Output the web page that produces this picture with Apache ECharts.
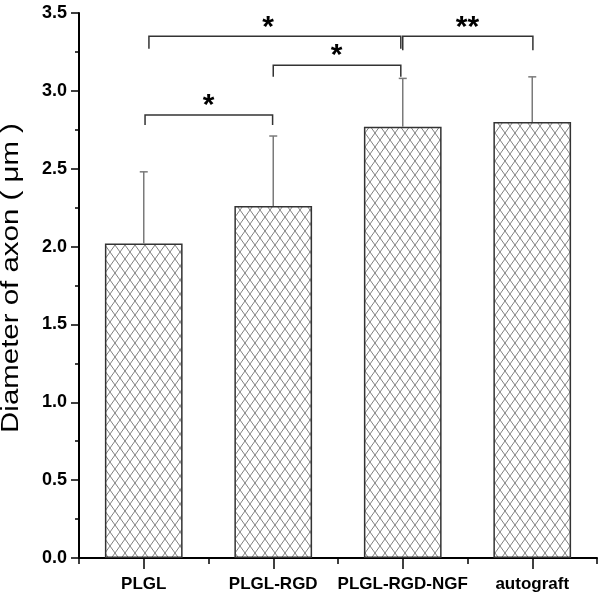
<!DOCTYPE html>
<html>
<head>
<meta charset="utf-8">
<script src="https://cdn.jsdelivr.net/npm/echarts@6/dist/echarts.min.js"></script>
<style>
html,body{margin:0;padding:0;background:#fff;}
#chart{width:600px;height:602px;}
</style>
</head>
<body>
<div id="chart"></div>
<script>
// ---- data ----
var categories = ['PLGL', 'PLGL-RGD', 'PLGL-RGD-NGF', 'autograft'];
var meanValues = [2.02, 2.26, 2.77, 2.80];
var errorValues = [0.46, 0.45, 0.31, 0.29];
var yTicks = [0, 0.5, 1.0, 1.5, 2.0, 2.5, 3.0, 3.5];
// significance brackets (category index + fractional offset)
var bracketFrom = [0.04, 2.00, 1.00, 0.01];
var bracketTo = [1.985, 3.005, 1.985, 0.995];
var bracketLevel = [3.35, 3.35, 3.165, 2.845];
var bracketTail = [3.27, 3.26, 3.09, 2.78];
var bracketLabel = ['*', '**', '*', '*'];
var bracketLabelPos = [0.96, 2.50, 1.49, 0.50];

function makePattern() {
  var w = 10, h = 14;
  var c = document.createElement('canvas');
  c.width = w; c.height = h;
  var ctx = c.getContext('2d');
  ctx.fillStyle = '#fff';
  ctx.fillRect(0, 0, w, h);
  ctx.strokeStyle = '#808080';
  ctx.lineWidth = 1;
  ctx.beginPath();
  ctx.moveTo(-w, -h); ctx.lineTo(2 * w, 2 * h);
  ctx.moveTo(2 * w, -h); ctx.lineTo(-w, 2 * h);
  ctx.stroke();
  return c;
}

var chart = echarts.init(document.getElementById('chart'), null, {renderer: 'canvas'});
var tickFont = '"Liberation Sans Narrow", "Arial Narrow", "Liberation Sans", Arial, sans-serif';

function fracX(api, v, y) {
  var idx = Math.round(v);
  var p = api.coord([idx, y]);
  var bw = api.size([1, 0])[0];
  return [p[0] + (v - idx) * bw, p[1]];
}

var bracketData = bracketFrom.map(function (f, i) {
  return [f, bracketTo[i], bracketLevel[i], bracketTail[i], bracketLabelPos[i], bracketLabel[i]];
});

var option = {
  backgroundColor: '#fff',
  animation: false,
  grid: {left: 79, right: 3, top: 13, bottom: 44},
  xAxis: [{
    type: 'category',
    data: categories,
    boundaryGap: true,
    axisLine: {lineStyle: {color: '#000', width: 2}},
    axisTick: {show: true, length: 6, lineStyle: {color: '#000', width: 1.5}},
    axisLabel: {color: '#000', fontFamily: tickFont, fontWeight: 'bold', fontSize: 17, margin: 18, interval: 0}
  }, {
    type: 'category',
    data: categories,
    position: 'bottom',
    boundaryGap: true,
    axisLine: {show: false},
    axisTick: {show: true, alignWithLabel: true, length: 11, lineStyle: {color: '#000', width: 1.5}},
    axisLabel: {show: false}
  }],
  yAxis: {
    type: 'value',
    min: 0, max: 3.5, interval: 0.5,
    axisLine: {show: true, lineStyle: {color: '#000', width: 2}},
    axisTick: {show: true, length: 8, lineStyle: {color: '#000', width: 1.5}},
    minorTick: {show: true, splitNumber: 2, length: 4, lineStyle: {color: '#000', width: 1.5}},
    splitLine: {show: false},
    axisLabel: {
      color: '#000', fontFamily: tickFont, fontWeight: 'bold', fontSize: 18, margin: 12,
      formatter: function (v) { return v.toFixed(1); }
    }
  },
  graphic: [{
    type: 'text',
    x: 12, y: 278,
    rotation: Math.PI / 2,
    scaleX: 1.28,
    style: {
      text: 'Diameter of axon ( μm )',
      font: '23px "Liberation Sans", Arial, sans-serif',
      fill: '#000',
      align: 'center',
      verticalAlign: 'middle'
    }
  }],
  series: [{
    type: 'bar',
    data: meanValues,
    barWidth: '60%',
    itemStyle: {
      color: {image: makePattern(), repeat: 'repeat'},
      borderColor: '#333',
      borderWidth: 1.5
    },
    z: 2
  }, {
    type: 'custom',
    data: meanValues.map(function (m, i) { return [i, m, m + errorValues[i]]; }),
    renderItem: function (params, api) {
      var b = api.coord([api.value(0), api.value(1)]);
      var t = api.coord([api.value(0), api.value(2)]);
      var cap = 4;
      return {
        type: 'group',
        children: [{
          type: 'line',
          shape: {x1: b[0], y1: b[1], x2: t[0], y2: t[1]},
          style: {stroke: '#7a7a7a', lineWidth: 1.5}
        }, {
          type: 'line',
          shape: {x1: t[0] - cap, y1: t[1], x2: t[0] + cap, y2: t[1]},
          style: {stroke: '#7a7a7a', lineWidth: 1.5}
        }]
      };
    },
    z: 3
  }, {
    type: 'custom',
    data: bracketData,
    encode: {x: 0, y: 2},
    renderItem: function (params, api) {
      var f = api.value(0), to = api.value(1), lev = api.value(2), tail = api.value(3), lp = api.value(4);
      var label = bracketData[params.dataIndex][5];
      var a = fracX(api, f, lev), b = fracX(api, to, lev);
      var at = fracX(api, f, tail), bt = fracX(api, to, tail);
      var lpP = fracX(api, lp, lev);
      return {
        type: 'group',
        children: [{
          type: 'polyline',
          shape: {points: [[at[0], at[1]], [a[0], a[1]], [b[0], b[1]], [bt[0], bt[1]]]},
          style: {stroke: '#333', lineWidth: 1.5, fill: null}
        }, {
          type: 'text',
          x: lpP[0], y: lpP[1] + 6,
          style: {
            text: label,
            font: 'bold 30px "Liberation Sans", Arial, sans-serif',
            fill: '#000',
            align: 'center',
            verticalAlign: 'bottom'
          }
        }]
      };
    },
    z: 4
  }]
};
chart.setOption(option);
</script>
</body>
</html>
